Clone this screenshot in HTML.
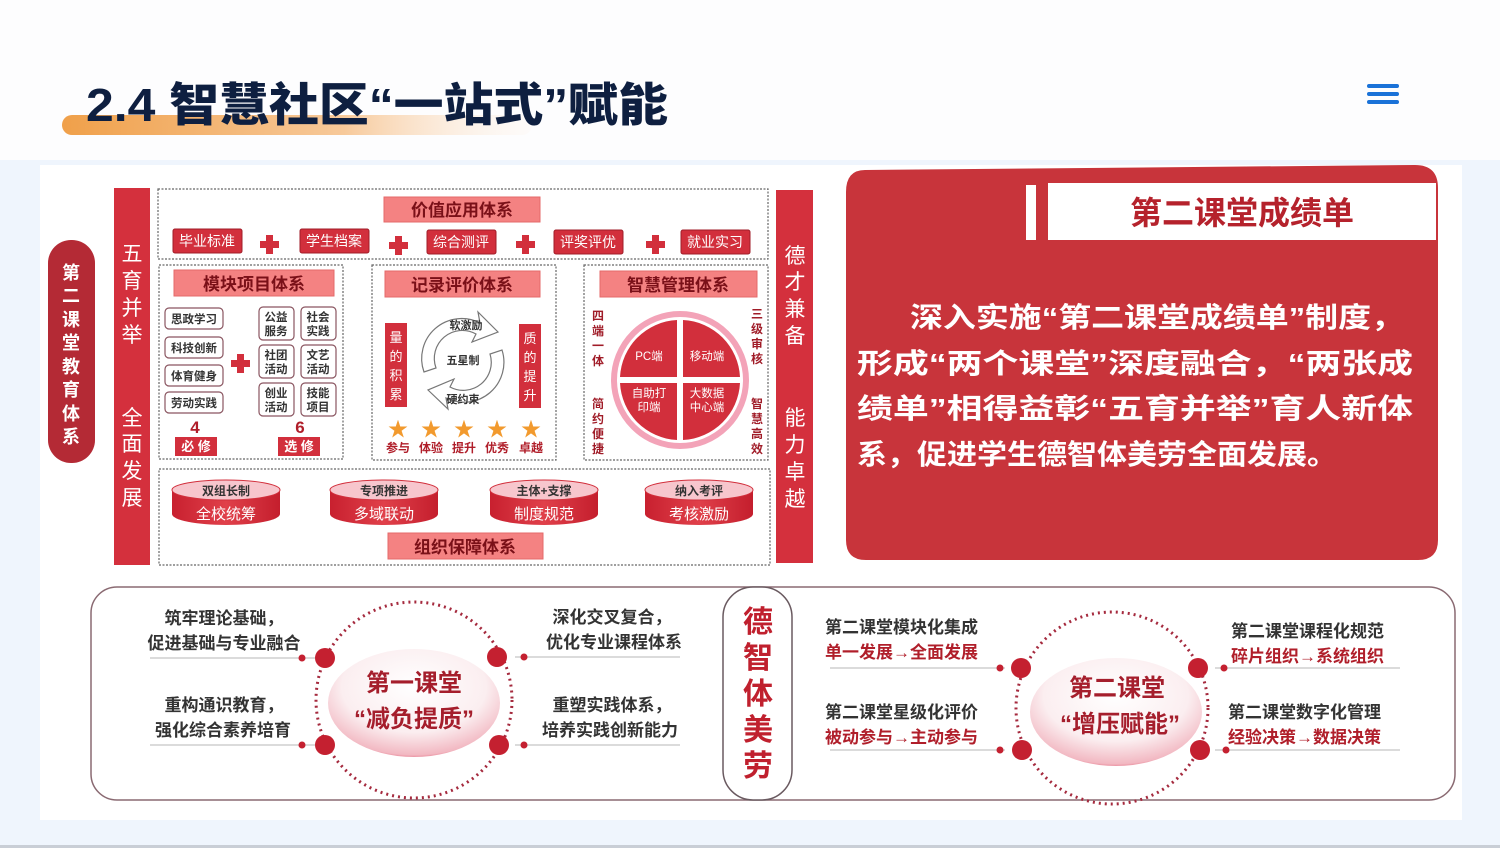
<!DOCTYPE html>
<html><head><meta charset="utf-8">
<style>
html,body{margin:0;padding:0;}
body{width:1500px;height:848px;overflow:hidden;background:#eff5fd;}
svg{display:block;font-family:"Liberation Sans","Noto Sans CJK SC",sans-serif;font-weight:bold;}
</style></head><body>
<svg width="1500" height="848" viewBox="0 0 1500 848" xmlns="http://www.w3.org/2000/svg">
<defs>
<linearGradient id="og" x1="0" x2="1"><stop offset="0" stop-color="#f0a04a"/><stop offset="0.6" stop-color="#f7c99a"/><stop offset="1" stop-color="#fdf3ea" stop-opacity="0.2"/></linearGradient>
<radialGradient id="disc" cx="0.5" cy="0.35" r="0.7"><stop offset="0" stop-color="#ffffff"/><stop offset="0.6" stop-color="#fbeef0"/><stop offset="0.9" stop-color="#f2b8c2"/><stop offset="1" stop-color="#d83a55"/></radialGradient>
<linearGradient id="cyl" x1="0" x2="1"><stop offset="0" stop-color="#c8202f"/><stop offset="0.5" stop-color="#e0404a"/><stop offset="1" stop-color="#c41e2d"/></linearGradient>
</defs>
<rect x="0" y="0" width="1500" height="160" fill="#fdfdfe"/>
<rect x="0" y="845" width="1500" height="3" fill="#c9ced6"/>
<rect x="40" y="165" width="1422" height="655" fill="#ffffff"/>

<!-- title -->
<rect x="62" y="115" width="470" height="20" rx="10" fill="url(#og)"/>
<text x="86" y="121" font-size="46" fill="#0e1f40" font-weight="900" textLength="582" lengthAdjust="spacingAndGlyphs">2.4 智慧社区“一站式”赋能</text>
<g fill="#1a72d8"><rect x="1367" y="84" width="32" height="4" rx="2"/><rect x="1367" y="92" width="32" height="4" rx="2"/><rect x="1367" y="100" width="32" height="4" rx="2"/></g>

<!-- left pill -->
<rect x="48" y="240" width="47" height="223" rx="23" fill="#b42a35"/>
<text font-size="18" fill="#fff" text-anchor="middle"><tspan x="71" y="279">第</tspan><tspan x="71" y="302">二</tspan><tspan x="71" y="326">课</tspan><tspan x="71" y="349">堂</tspan><tspan x="71" y="373">教</tspan><tspan x="71" y="396">育</tspan><tspan x="71" y="420">体</tspan><tspan x="71" y="443">系</tspan></text>

<!-- vertical red bars -->
<rect x="114" y="188" width="36" height="377" fill="#d4303d"/>
<text font-size="21" fill="#fff" text-anchor="middle" font-weight="normal"><tspan x="132" y="261">五</tspan><tspan x="132" y="288">育</tspan><tspan x="132" y="315">并</tspan><tspan x="132" y="342">举</tspan><tspan x="132" y="425">全</tspan><tspan x="132" y="451">面</tspan><tspan x="132" y="478">发</tspan><tspan x="132" y="505">展</tspan></text>
<rect x="776" y="190" width="37" height="373" fill="#d4303d"/>
<text font-size="21" fill="#fff" text-anchor="middle" font-weight="normal"><tspan x="795" y="263">德</tspan><tspan x="795" y="289">才</tspan><tspan x="795" y="316">兼</tspan><tspan x="795" y="343">备</tspan><tspan x="795" y="425">能</tspan><tspan x="795" y="452">力</tspan><tspan x="795" y="479">卓</tspan><tspan x="795" y="506">越</tspan></text>

<!-- dotted boxes -->
<g fill="none" stroke="#666" stroke-width="1.2" stroke-dasharray="2 1.5">
<rect x="158" y="189" width="610" height="70"/>
<rect x="159" y="265" width="184" height="194"/>
<rect x="372" y="265" width="184" height="195"/>
<rect x="584" y="265" width="184" height="195"/>
<rect x="159" y="469" width="611" height="96"/>
</g>

<!-- headers -->
<g fill="#f48282" stroke="#e46a6a"><rect x="384" y="197" width="156" height="25"/><rect x="174" y="270" width="160" height="26"/><rect x="385" y="271" width="155" height="26"/><rect x="600" y="271" width="157" height="26"/><rect x="388" y="533" width="155" height="26"/></g>
<g font-size="17" fill="#7a1018" text-anchor="middle"><text x="462" y="216">价值应用体系</text><text x="254" y="290">模块项目体系</text><text x="462" y="291">记录评价体系</text><text x="678" y="291">智慧管理体系</text><text x="465" y="553">组织保障体系</text></g>

<!-- value tags -->
<g fill="#d22f3c" stroke="#a01c28"><rect x="173" y="229" width="69" height="24" rx="2"/><rect x="300" y="229" width="69" height="24" rx="2"/><rect x="427" y="230" width="69" height="24" rx="2"/><rect x="554" y="230" width="69" height="24" rx="2"/><rect x="681" y="230" width="69" height="24" rx="2"/></g>
<g font-size="14" fill="#fff" text-anchor="middle" font-weight="normal"><text x="207" y="246">毕业标准</text><text x="334" y="246">学生档案</text><text x="461" y="247">综合测评</text><text x="588" y="247">评奖评优</text><text x="715" y="247">就业实习</text></g>
<g fill="#d22f3c"><path d="M266 235h7v6h6v7h-6v6h-7v-6h-6v-7h6z"/><path d="M395 236h7v6h6v7h-6v6h-7v-6h-6v-7h6z"/><path d="M522 235h7v6h6v7h-6v6h-7v-6h-6v-7h6z"/><path d="M652 235h7v6h6v7h-6v6h-7v-6h-6v-7h6z"/><path d="M237 354h7v6h6v7h-6v6h-7v-6h-6v-7h6z"/></g>

<!-- module items -->
<g fill="#fff" stroke="#8a5560" stroke-width="1.2"><rect x="165" y="308" width="58" height="21" rx="4"/><rect x="165" y="337" width="58" height="21" rx="4"/><rect x="165" y="365" width="58" height="21" rx="4"/><rect x="165" y="392" width="58" height="21" rx="4"/>
<rect x="259" y="307" width="35" height="33" rx="4"/><rect x="301" y="307" width="35" height="33" rx="4"/><rect x="259" y="345" width="35" height="33" rx="4"/><rect x="301" y="345" width="35" height="33" rx="4"/><rect x="259" y="383" width="35" height="33" rx="4"/><rect x="301" y="383" width="35" height="33" rx="4"/></g>
<g font-size="11.5" fill="#333" text-anchor="middle"><text x="194" y="323">思政学习</text><text x="194" y="352">科技创新</text><text x="194" y="380">体育健身</text><text x="194" y="407">劳动实践</text>
<text x="276" y="321">公益</text><text x="276" y="335">服务</text><text x="318" y="321">社会</text><text x="318" y="335">实践</text>
<text x="276" y="359">社团</text><text x="276" y="373">活动</text><text x="318" y="359">文艺</text><text x="318" y="373">活动</text>
<text x="276" y="397">创业</text><text x="276" y="411">活动</text><text x="318" y="397">技能</text><text x="318" y="411">项目</text></g>
<g font-size="17" fill="#b01e2a" text-anchor="middle"><text x="195" y="433">4</text><text x="300" y="433">6</text></g>
<rect x="175" y="437" width="42" height="19" fill="#d22f3c"/><rect x="278" y="437" width="42" height="19" fill="#d22f3c"/>
<g font-size="13" fill="#fff" text-anchor="middle"><text x="196" y="451">必 修</text><text x="299" y="451">选 修</text></g>

<!-- record eval -->
<rect x="385" y="323" width="22" height="84" fill="#d22f3c"/><rect x="519" y="324" width="22" height="84" fill="#d22f3c"/>
<g font-size="13" fill="#fff" text-anchor="middle" font-weight="normal"><text><tspan x="396" y="342">量</tspan><tspan x="396" y="361">的</tspan><tspan x="396" y="380">积</tspan><tspan x="396" y="399">累</tspan></text><text><tspan x="530" y="343">质</tspan><tspan x="530" y="362">的</tspan><tspan x="530" y="381">提</tspan><tspan x="530" y="400">升</tspan></text></g>
<g fill="#fff" stroke="#777" stroke-width="1.2">
<path d="M424 372 A40 40 0 0 1 480 323 L478 312 L498 332 L472 342 L476 334 A28 28 0 0 0 436 368 Z"/>
<path d="M502 350 A40 40 0 0 1 446 398 L448 409 L428 390 L454 379 L450 387 A28 28 0 0 0 490 354 Z"/>
</g>
<g font-size="11" fill="#333" text-anchor="middle"><text x="466" y="329">软激励</text><text x="463" y="364">五星制</text><text x="463" y="403">硬约束</text></g>
<g font-size="20" fill="#f29a2e" text-anchor="middle" font-weight="normal"><text x="398" y="436">★</text><text x="431" y="436">★</text><text x="464" y="436">★</text><text x="497" y="436">★</text><text x="531" y="436">★</text></g>
<g font-size="12" fill="#b01e2a" text-anchor="middle"><text x="398" y="452">参与</text><text x="431" y="452">体验</text><text x="464" y="452">提升</text><text x="497" y="452">优秀</text><text x="531" y="452">卓越</text></g>

<!-- smart management -->
<circle cx="680" cy="380" r="66" fill="none" stroke="#f3a3b8" stroke-width="6"/>
<g fill="#d22f3c"><path d="M677 377 V320 A60 60 0 0 0 620 377 Z"/><path d="M683 377 V320 A60 60 0 0 1 740 377 Z"/><path d="M677 383 V440 A60 60 0 0 1 620 383 Z"/><path d="M683 383 V440 A60 60 0 0 0 740 383 Z"/></g>
<g font-size="11.5" fill="#fff" text-anchor="middle" font-weight="normal"><text x="649" y="360">PC端</text><text x="707" y="360">移动端</text><text x="649" y="397">自助打</text><text x="649" y="411">印端</text><text x="707" y="397">大数据</text><text x="707" y="411">中心端</text></g>
<g font-size="12" fill="#a01c28" text-anchor="middle"><text><tspan x="598" y="320">四</tspan><tspan x="598" y="335">端</tspan><tspan x="598" y="350">一</tspan><tspan x="598" y="365">体</tspan></text><text><tspan x="598" y="408">简</tspan><tspan x="598" y="423">约</tspan><tspan x="598" y="438">便</tspan><tspan x="598" y="453">捷</tspan></text>
<text><tspan x="757" y="318">三</tspan><tspan x="757" y="333">级</tspan><tspan x="757" y="348">审</tspan><tspan x="757" y="363">核</tspan></text><text><tspan x="757" y="408">智</tspan><tspan x="757" y="423">慧</tspan><tspan x="757" y="438">高</tspan><tspan x="757" y="453">效</tspan></text></g>

<!-- cylinders -->
<g>
<path d="M172 490 V514 A54 11 0 0 0 280 514 V490 Z" fill="url(#cyl)"/><ellipse cx="226" cy="490" rx="54" ry="10" fill="#f7c6cd" stroke="#d22f3c"/>
<path d="M330 490 V514 A54 11 0 0 0 438 514 V490 Z" fill="url(#cyl)"/><ellipse cx="384" cy="490" rx="54" ry="10" fill="#f7c6cd" stroke="#d22f3c"/>
<path d="M490 490 V514 A54 11 0 0 0 598 514 V490 Z" fill="url(#cyl)"/><ellipse cx="544" cy="490" rx="54" ry="10" fill="#f7c6cd" stroke="#d22f3c"/>
<path d="M645 490 V514 A54 11 0 0 0 753 514 V490 Z" fill="url(#cyl)"/><ellipse cx="699" cy="490" rx="54" ry="10" fill="#f7c6cd" stroke="#d22f3c"/>
</g>
<g font-size="12" fill="#333" text-anchor="middle"><text x="226" y="495">双组长制</text><text x="384" y="495">专项推进</text><text x="544" y="495">主体+支撑</text><text x="699" y="495">纳入考评</text></g>
<g font-size="15" fill="#fff" text-anchor="middle" font-weight="normal"><text x="226" y="519">全校统筹</text><text x="384" y="519">多域联动</text><text x="544" y="519">制度规范</text><text x="699" y="519">考核激励</text></g>

<!-- big red card -->
<path d="M865 170 L1415 165 Q1438 165 1438 188 V540 Q1438 560 1418 560 H866 Q846 560 846 540 V192 Q846 170 865 170 Z" fill="#c8343b"/>
<rect x="1026" y="185" width="10" height="55" fill="#fff"/>
<rect x="1048" y="183" width="388" height="57" fill="#fff"/>
<text x="1242" y="224" font-size="32" fill="#b5222c" text-anchor="middle">第二课堂成绩单</text>
<g font-size="28" fill="#fff" font-weight="bold">
<text x="910" y="327" textLength="494" lengthAdjust="spacingAndGlyphs">深入实施“第二课堂成绩单”制度，</text>
<text x="857" y="373" textLength="556" lengthAdjust="spacingAndGlyphs">形成“两个课堂”深度融合，“两张成</text>
<text x="857" y="418" textLength="556" lengthAdjust="spacingAndGlyphs">绩单”相得益彰“五育并举”育人新体</text>
<text x="857" y="464" textLength="480" lengthAdjust="spacingAndGlyphs">系，促进学生德智体美劳全面发展。</text>
</g>

<!-- bottom box -->
<rect x="91" y="587" width="1364" height="213" rx="26" fill="#fff" stroke="#8a6a72" stroke-width="1.5"/>
<rect x="723" y="587" width="69" height="213" rx="30" fill="#fff" stroke="#6a5a60" stroke-width="1.5"/>
<g font-size="30" fill="#c0202e" text-anchor="middle"><text x="758" y="632">德</text><text x="758" y="668">智</text><text x="758" y="704">体</text><text x="758" y="740">美</text><text x="758" y="776">劳</text></g>

<!-- left circle -->
<circle cx="414" cy="700" r="98" fill="none" stroke="#a52a3e" stroke-width="3" stroke-dasharray="2 4"/>
<ellipse cx="414" cy="703" rx="86" ry="54" fill="url(#disc)"/>
<g stroke="#cfcfcf" stroke-width="1.5"><line x1="150" y1="658" x2="315" y2="658"/><line x1="150" y1="745" x2="315" y2="745"/><line x1="515" y1="657" x2="680" y2="657"/><line x1="515" y1="745" x2="680" y2="745"/></g>
<g fill="#c42030"><circle cx="325" cy="658" r="10"/><circle cx="497" cy="657" r="10"/><circle cx="325" cy="745" r="10"/><circle cx="499" cy="745" r="10"/><circle cx="302" cy="658" r="3.5"/><circle cx="302" cy="745" r="3.5"/><circle cx="524" cy="657" r="3.5"/><circle cx="524" cy="745" r="3.5"/></g>
<g font-size="17" fill="#333" text-anchor="middle"><text x="224" y="624">筑牢理论基础，</text><text x="224" y="649">促进基础与专业融合</text><text x="224" y="711">重构通识教育，</text><text x="223" y="736">强化综合素养培育</text>
<text x="612" y="623">深化交叉复合，</text><text x="614" y="648">优化专业课程体系</text><text x="612" y="711">重塑实践体系，</text><text x="610" y="736">培养实践创新能力</text></g>
<g font-size="24" fill="#a51e2c" text-anchor="middle"><text x="414" y="691">第一课堂</text><text x="414" y="727">“减负提质”</text></g>

<!-- right circle -->
<circle cx="1112" cy="708" r="96" fill="none" stroke="#a52a3e" stroke-width="3" stroke-dasharray="2 4"/>
<ellipse cx="1116" cy="712" rx="86" ry="54" fill="url(#disc)"/>
<g stroke="#cfcfcf" stroke-width="1.5"><line x1="830" y1="668" x2="1005" y2="668"/><line x1="830" y1="750" x2="1005" y2="750"/><line x1="1215" y1="668" x2="1400" y2="668"/><line x1="1215" y1="750" x2="1400" y2="750"/></g>
<g fill="#c42030"><circle cx="1021" cy="668" r="10"/><circle cx="1198" cy="668" r="10"/><circle cx="1022" cy="750" r="10"/><circle cx="1200" cy="750" r="10"/><circle cx="1000" cy="668" r="3.5"/><circle cx="1000" cy="750" r="3.5"/><circle cx="1224" cy="668" r="3.5"/><circle cx="1226" cy="750" r="3.5"/></g>
<g font-size="17"><text x="825" y="633" fill="#333">第二课堂模块化集成</text><text x="825" y="658" fill="#b01e2a">单一发展→全面发展</text><text x="825" y="718" fill="#333">第二课堂星级化评价</text><text x="825" y="743" fill="#b01e2a">被动参与→主动参与</text>
<text x="1231" y="637" fill="#333">第二课堂课程化规范</text><text x="1231" y="662" fill="#b01e2a">碎片组织→系统组织</text><text x="1228" y="718" fill="#333">第二课堂数字化管理</text><text x="1228" y="743" fill="#b01e2a">经验决策→数据决策</text></g>
<g font-size="24" fill="#a51e2c" text-anchor="middle"><text x="1117" y="696">第二课堂</text><text x="1120" y="732">“增压赋能”</text></g>
</svg>
</body></html>
